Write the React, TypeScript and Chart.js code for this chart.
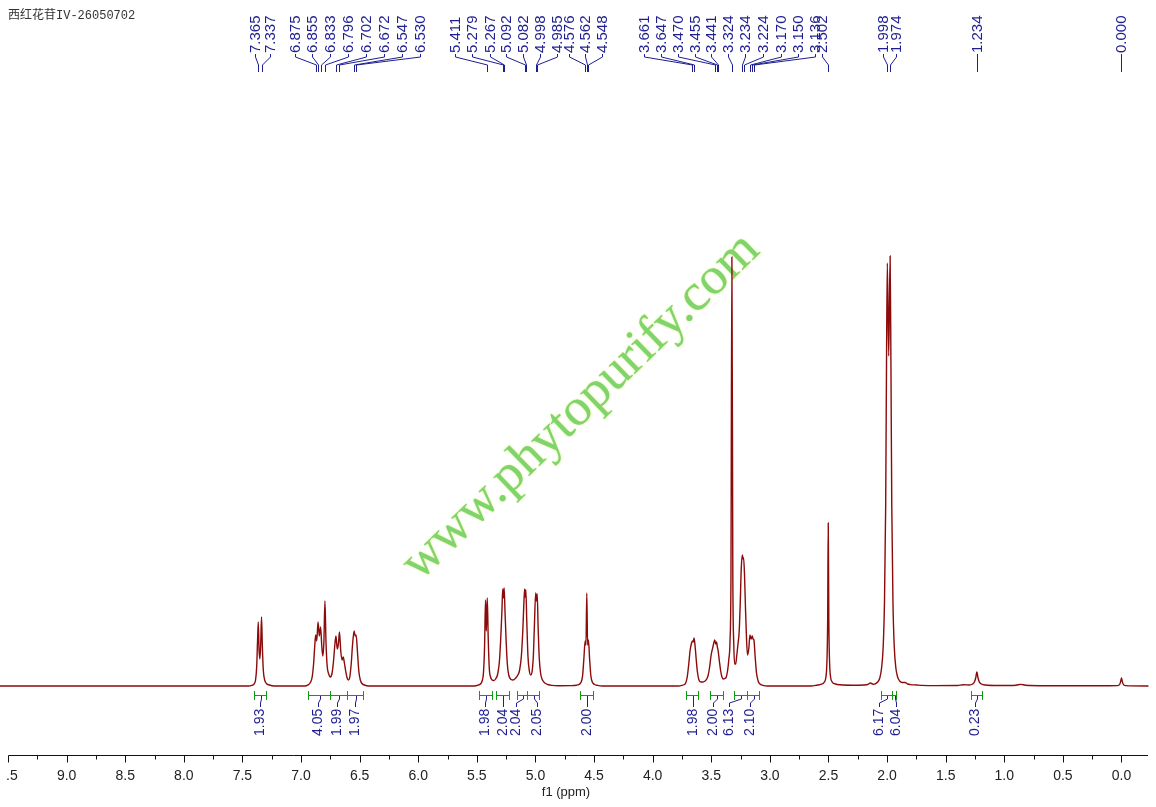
import React, { useEffect, useRef } from "react";
import { Chart, registerables } from "chart.js";

Chart.register(...registerables);

// 1H NMR trace as [ppm, intensity] pairs (0 = baseline)
const aromatic: [number, number][] = [
  [7.45, 0], [7.42, 0.6], [7.4, 2], [7.388, 6], [7.378, 20], [7.371, 45], [7.365, 64], [7.358, 36],
  [7.351, 27], [7.344, 42], [7.337, 69], [7.33, 40], [7.322, 16], [7.31, 6], [7.295, 2.5], [7.27, 1],
  [7.23, 0], [6.97, 0], [6.94, 1.2], [6.92, 3.5], [6.905, 9], [6.893, 22], [6.883, 40], [6.875, 51],
  [6.866, 45], [6.855, 64], [6.844, 50], [6.833, 59], [6.823, 40], [6.814, 30], [6.805, 44], [6.796, 85],
  [6.787, 44], [6.777, 20], [6.764, 12], [6.75, 9], [6.735, 13], [6.722, 26], [6.711, 42], [6.702, 50],
  [6.691, 37], [6.681, 42], [6.672, 54], [6.661, 35], [6.65, 26], [6.64, 29], [6.63, 23], [6.619, 15],
  [6.607, 8], [6.596, 6], [6.584, 9], [6.572, 22], [6.56, 42], [6.547, 55], [6.538, 50], [6.53, 51],
  [6.519, 35], [6.507, 15], [6.494, 6], [6.48, 2.5], [6.46, 1], [6.42, 0],
];

const anomeric: [number, number][] = [
  [5.52, 0], [5.49, 0.8], [5.47, 2], [5.455, 5], [5.443, 14], [5.434, 40], [5.426, 86], [5.419, 55],
  [5.411, 88], [5.403, 48], [5.394, 18], [5.383, 9], [5.37, 6], [5.355, 5.5], [5.34, 7], [5.322, 12],
  [5.308, 24], [5.296, 48], [5.286, 75], [5.279, 97], [5.273, 88], [5.267, 98], [5.259, 72], [5.25, 45],
  [5.24, 22], [5.228, 11], [5.208, 6.5], [5.19, 6], [5.172, 7.5], [5.15, 11], [5.135, 16], [5.12, 30],
  [5.108, 55], [5.099, 82], [5.092, 97], [5.087, 89], [5.082, 96], [5.074, 65], [5.064, 30], [5.052, 15],
  [5.04, 11], [5.028, 15], [5.018, 30], [5.009, 60], [4.998, 93], [4.992, 85], [4.985, 92], [4.977, 58],
  [4.967, 27], [4.955, 12], [4.94, 6], [4.92, 3], [4.895, 1.5], [4.86, 0.6], [4.8, 0.3], [4.7, 0.4],
  [4.65, 0.8], [4.63, 1.5], [4.612, 3.5], [4.598, 10], [4.587, 27], [4.576, 45], [4.569, 41], [4.562, 93],
  [4.555, 41], [4.548, 46], [4.538, 27], [4.527, 10], [4.513, 3.5], [4.495, 1.5], [4.47, 0.6], [4.43, 0],
];

const sugar: [number, number][] = [
  [3.78, 0], [3.75, 0.6], [3.73, 1.5], [3.72, 2.5], [3.705, 9], [3.692, 22], [3.68, 36], [3.668, 43],
  [3.661, 45], [3.654, 44], [3.647, 48], [3.638, 40], [3.628, 26], [3.618, 14], [3.605, 6], [3.59, 4],
  [3.57, 4], [3.553, 5], [3.538, 7], [3.526, 11], [3.514, 19], [3.501, 31], [3.486, 39], [3.47, 46],
  [3.462, 42], [3.455, 44], [3.448, 39], [3.441, 35], [3.431, 25], [3.421, 16], [3.41, 9.5], [3.398, 7],
  [3.385, 7.5], [3.372, 9], [3.36, 16], [3.35, 27], [3.34, 45], [3.332, 110], [3.324, 429], [3.316, 110],
  [3.308, 42], [3.3, 22], [3.292, 22], [3.282, 31], [3.272, 42], [3.262, 54], [3.253, 82], [3.244, 118],
  [3.234, 131], [3.229, 127], [3.224, 128], [3.216, 110], [3.208, 78], [3.2, 50], [3.191, 31], [3.18, 37],
  [3.17, 51], [3.16, 47], [3.15, 50], [3.143, 47], [3.136, 46], [3.126, 30], [3.114, 13], [3.1, 5],
  [3.085, 2], [3.06, 0.7], [3.02, 0],
];

const solvent: [number, number][] = [
  [2.65, 0], [2.6, 0.8], [2.56, 1.8], [2.535, 4], [2.522, 9], [2.513, 25], [2.507, 65], [2.502, 163],
  [2.497, 65], [2.491, 25], [2.482, 9], [2.468, 4], [2.44, 2], [2.4, 1.2], [2.3, 0.8], [2.2, 1],
  [2.165, 1.5], [2.142, 3], [2.12, 1.8], [2.1, 2.2], [2.08, 4], [2.062, 8], [2.047, 18], [2.033, 40],
  [2.022, 85], [2.012, 180], [2.005, 320], [1.998, 423], [1.986, 330], [1.974, 430], [1.967, 320],
  [1.96, 180], [1.95, 85], [1.939, 40], [1.925, 18], [1.91, 9], [1.893, 5], [1.87, 3.5], [1.846, 3.5],
  [1.825, 2], [1.8, 1.4], [1.75, 1], [1.7, 0.6], [1.6, 0.4],
];

const minor: [number, number][] = [
  [1.4, 0.5], [1.35, 1.2], [1.3, 1], [1.27, 2], [1.255, 4], [1.244, 8], [1.234, 14], [1.224, 8],
  [1.213, 4], [1.195, 2], [1.16, 1], [1.05, 0.5], [0.9, 0.8], [0.86, 1.6], [0.82, 0.8], [0.6, 0.3],
  [0.2, 0.2], [0.035, 0.4], [0.014, 2], [0.006, 5], [0, 8], [-0.006, 5], [-0.014, 2], [-0.035, 0.4],
  [-0.23, 0],
];

// picked peaks and where their labels sit along the axis (ppm)
const peakShifts = [
  7.365, 7.337, 6.875, 6.855, 6.833, 6.796, 6.702, 6.672, 6.547, 6.53, 5.411, 5.279, 5.267, 5.092,
  5.082, 4.998, 4.985, 4.576, 4.562, 4.548, 3.661, 3.647, 3.47, 3.455, 3.441, 3.324, 3.234, 3.224,
  3.17, 3.15, 3.136, 2.502, 1.998, 1.974, 1.234, 0.0,
];
const peakLabelAt = [
  7.389, 7.261, 7.048, 6.903, 6.749, 6.596, 6.442, 6.288, 6.135, 5.981, 5.683, 5.538, 5.392, 5.247,
  5.102, 4.957, 4.812, 4.718, 4.573, 4.428, 4.078, 3.933, 3.788, 3.643, 3.498, 3.353, 3.208, 3.055,
  2.901, 2.756, 2.611, 2.551, 2.031, 1.928, 1.237, 0.0,
];

// integrals
const integralFrom = [7.398, 6.937, 6.749, 6.604, 5.478, 5.333, 5.154, 5.068, 4.616, 3.712, 3.515, 3.302, 3.191, 2.048, 1.962, 1.288];
const integralTo = [7.295, 6.749, 6.604, 6.468, 5.367, 5.222, 5.068, 4.966, 4.505, 3.609, 3.404, 3.191, 3.097, 1.962, 1.92, 1.186];
const integralValues = ["1.93", "4.05", "1.99", "1.97", "1.98", "2.04", "2.04", "2.05", "2.00", "1.98", "2.00", "6.13", "2.10", "6.17", "6.04", "0.23"];
const integralLabelAt = [7.346, 6.852, 6.689, 6.536, 5.427, 5.273, 5.17, 4.991, 4.556, 3.652, 3.481, 3.345, 3.166, 2.065, 1.92, 1.246];

const xTicks = [9.5, 9.0, 8.5, 8.0, 7.5, 7.0, 6.5, 6.0, 5.5, 5.0, 4.5, 4.0, 3.5, 3.0, 2.5, 2.0, 1.5, 1.0, 0.5, 0.0];

const sampleName = "西红花苷IV-26050702";
const watermark = "www.phytopurify.com";

const NAVY = "#1e1e92";
const GREEN = "#129a12";

const decor = {
  id: "nmrDecor",
  beforeDatasetsDraw(chart: any) {
    const { ctx } = chart;
    ctx.save();
    ctx.translate(581, 407);
    ctx.rotate((-44 * Math.PI) / 180);
    ctx.font = '52px "Liberation Serif", serif';
    const w = ctx.measureText(watermark).width;
    ctx.scale(475 / w, 1);
    ctx.textAlign = "center";
    ctx.textBaseline = "middle";
    ctx.shadowColor = "rgba(210, 235, 90, 0.9)";
    ctx.shadowBlur = 2;
    ctx.fillStyle = "#80d46e";
    ctx.fillText(watermark, 0, 0);
    ctx.restore();
  },
  afterDatasetsDraw(chart: any) {
    const { ctx, chartArea } = chart;
    const xs = chart.scales.x;
    const px = (v: number) => xs.getPixelForValue(v);

    ctx.save();
    // sample name
    ctx.fillStyle = "#333";
    ctx.font = '12px "Liberation Mono", "Noto Sans CJK SC", monospace';
    ctx.textAlign = "left";
    ctx.textBaseline = "middle";
    ctx.fillText(sampleName, 8, 16);

    // peak labels
    ctx.font = '15px "Liberation Sans", Arial, sans-serif';
    ctx.fillStyle = NAVY;
    ctx.strokeStyle = NAVY;
    ctx.lineWidth = 1;
    peakShifts.forEach((ppm, i) => {
      const p = Math.round(px(ppm)) + 0.5;
      const l = Math.round(px(peakLabelAt[i])) + 0.5;
      ctx.beginPath();
      ctx.moveTo(l, 54);
      ctx.lineTo(l, 57);
      ctx.lineTo(p, 65);
      ctx.lineTo(p, 72);
      ctx.stroke();
      ctx.save();
      ctx.translate(l, 53);
      ctx.rotate(-Math.PI / 2);
      ctx.textAlign = "left";
      ctx.textBaseline = "middle";
      ctx.fillText(ppm.toFixed(3), 0, 0);
      ctx.restore();
    });

    // integrals
    ctx.font = '14px "Liberation Sans", Arial, sans-serif';
    integralFrom.forEach((from, i) => {
      const a = Math.round(px(from)) + 0.5;
      const b = Math.round(px(integralTo[i])) + 0.5;
      ctx.strokeStyle = GREEN;
      ctx.beginPath();
      ctx.moveTo(a, 695.5);
      ctx.lineTo(b, 695.5);
      ctx.moveTo(a, 691);
      ctx.lineTo(a, 700);
      ctx.moveTo(b, 691);
      ctx.lineTo(b, 700);
      ctx.stroke();
      const mid = Math.round((a + b) / 2) + 0.5;
      const l = Math.round(px(integralLabelAt[i])) + 0.5;
      ctx.strokeStyle = NAVY;
      ctx.beginPath();
      ctx.moveTo(mid, 696);
      ctx.lineTo(mid, 699);
      ctx.lineTo(l, 703);
      ctx.lineTo(l, 707);
      ctx.stroke();
      ctx.save();
      ctx.translate(l, 736);
      ctx.rotate(-Math.PI / 2);
      ctx.textAlign = "left";
      ctx.textBaseline = "middle";
      ctx.fillText(integralValues[i], 0, 0);
      ctx.restore();
    });

    // x axis
    const axisY = 755.5;
    const left = Math.round(px(xTicks[0])) + 0.5;
    ctx.strokeStyle = "#111";
    ctx.beginPath();
    ctx.moveTo(left, axisY);
    ctx.lineTo(chartArea.right, axisY);
    xTicks.forEach((t, i) => {
      const x = Math.round(px(t)) + 0.5;
      ctx.moveTo(x, axisY);
      ctx.lineTo(x, axisY + 7);
      if (i < xTicks.length - 1) {
        const m = Math.round(px((t + xTicks[i + 1]) / 2)) + 0.5;
        ctx.moveTo(m, axisY);
        ctx.lineTo(m, axisY + 4);
      }
    });
    ctx.stroke();

    ctx.save();
    ctx.beginPath();
    ctx.rect(6, 760, chart.width, 40);
    ctx.clip();
    ctx.fillStyle = "#222";
    ctx.font = '14px "Liberation Sans", Arial, sans-serif';
    ctx.textAlign = "center";
    ctx.textBaseline = "middle";
    xTicks.forEach((t) => ctx.fillText(t.toFixed(1), px(t), 776));
    ctx.restore();

    ctx.fillStyle = "#222";
    ctx.font = '13px "Liberation Sans", Arial, sans-serif';
    ctx.textAlign = "center";
    ctx.textBaseline = "middle";
    ctx.fillText("f1 (ppm)", 566, 792);
    ctx.restore();
  },
};

const App = () => {
  const canvasRef = useRef<HTMLCanvasElement | null>(null);

  useEffect(() => {
    if (!canvasRef.current) return;
    const ctx = canvasRef.current.getContext("2d");
    if (!ctx) return;

    const trace = [[9.57, 0] as [number, number], ...aromatic, ...anomeric, ...sugar, ...solvent, ...minor];

    const chart = new Chart(ctx, {
      type: "line",
      data: {
        datasets: [
          {
            data: trace.map(([x, y]) => ({ x, y })),
            borderColor: "#8b0a0a",
            borderWidth: 1.4,
            pointRadius: 0,
            cubicInterpolationMode: "monotone",
            clip: false as any,
          },
        ],
      },
      options: {
        responsive: true,
        maintainAspectRatio: false,
        animation: false,
        events: [],
        layout: { padding: { left: 0, right: 8, top: 256, bottom: 121 } },
        scales: {
          x: { type: "linear", reverse: true, min: -0.2261, max: 9.5683, display: false },
          y: { type: "linear", min: 0, max: 430, display: false },
        },
        plugins: { legend: { display: false }, tooltip: { enabled: false } },
      },
      plugins: [decor],
    });

    return () => {
      chart.destroy();
    };
  }, []);

  return (
    <div style={{ position: "fixed", left: 0, top: 0, width: 1156, height: 807, background: "#fff" }}>
      <canvas ref={canvasRef} />
    </div>
  );
};

export default App;
